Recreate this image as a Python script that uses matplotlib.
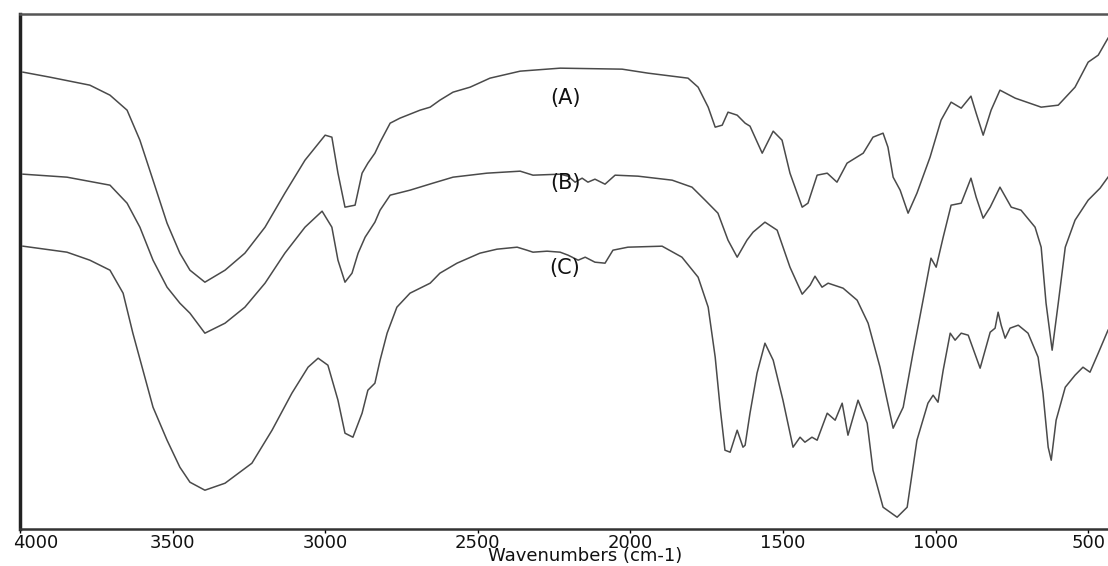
import numpy as np
import matplotlib.pyplot as plt
import matplotlib.transforms as mtransforms

plt.rcParams['font.family'] = ['DejaVu Sans']

# spectrum (A)
wn_a = [3990, 3902, 3771, 3705, 3649, 3607, 3564, 3518, 3476, 3443, 3394, 3328, 3263, 3197,
        3132, 3066, 3000, 2978, 2958, 2935, 2902, 2879, 2860, 2837, 2820, 2787, 2755, 2689,
        2656, 2624, 2581, 2525, 2460, 2361, 2230, 2027, 1942, 1811, 1778, 1745, 1722, 1699,
        1680, 1650, 1624, 1608, 1568, 1532, 1503, 1477, 1437, 1418, 1388, 1355, 1323, 1290,
        1237, 1205, 1172, 1156, 1139, 1116, 1090, 1061, 1018, 982, 949, 916, 884, 867, 844,
        818, 789, 739, 654, 598, 543, 500, 467, 435]
t_a = [457, 452, 444, 434, 419, 389, 349, 306, 276, 259, 247, 259, 276, 302,
       336, 369, 394, 392, 356, 322, 324, 356, 366, 376, 387, 406, 411, 419,
       422, 429, 437, 442, 451, 458, 461, 460, 456, 451, 442, 422, 402, 404,
       417, 414, 406, 403, 376, 398, 389, 356, 322, 326, 354, 356, 347, 366,
       376, 392, 396, 382, 352, 339, 316, 336, 372, 409, 427, 421, 433, 416, 394,
       419, 439, 431, 422, 424, 442, 467, 474, 491]

# spectrum (B)
wn_b = [3990, 3846, 3705, 3649, 3607, 3564, 3518, 3476, 3443, 3394, 3328, 3263, 3197, 3132,
        3066, 3010, 2978, 2958, 2935, 2912, 2892, 2869, 2837, 2820, 2787, 2722, 2647, 2581,
        2470, 2361, 2319, 2230, 2204, 2181, 2158, 2139, 2116, 2083, 2050, 1975, 1863, 1798,
        1755, 1713, 1680, 1650, 1618, 1598, 1559, 1519, 1477, 1437, 1411, 1395, 1372, 1352,
        1303, 1257, 1221, 1182, 1139, 1106, 1074, 1041, 1015, 998, 975, 949, 916, 884, 867,
        844, 821, 789, 752, 720, 674, 654, 638, 618, 598, 575, 543, 500, 461, 435]
t_b = [355, 352, 344, 326, 302, 269, 242, 226, 216, 196, 206, 222, 246, 276,
       302, 318, 302, 269, 247, 256, 276, 292, 307, 319, 334, 339, 346, 352,
       356, 358, 354, 355, 353, 347, 351, 347, 350, 345, 354, 353, 349, 342,
       329, 316, 289, 272, 289, 297, 307, 299, 262, 235, 244, 253, 242, 246,
       241, 229, 206, 162, 101, 122, 176, 229, 271, 262, 292, 324, 326, 351, 332,
       311, 322, 342, 322, 319, 302, 282, 226, 179, 226, 282, 309, 329, 341, 352]

# spectrum (C)
wn_c = [3990, 3846, 3771, 3705, 3662, 3630, 3597, 3564, 3518, 3476, 3443, 3394, 3328, 3240,
        3174, 3109, 3056, 3023, 2991, 2958, 2935, 2909, 2879, 2860, 2837, 2820, 2797, 2765,
        2722, 2656, 2624, 2568, 2493, 2437, 2371, 2339, 2319, 2273, 2230, 2204, 2171, 2148,
        2116, 2083, 2057, 2008, 1896, 1831, 1778, 1745, 1722, 1706, 1690, 1673, 1650, 1631,
        1624, 1608, 1585, 1559, 1532, 1500, 1467, 1444, 1428, 1405, 1388, 1355, 1329, 1306,
        1287, 1254, 1224, 1205, 1172, 1126, 1093, 1061, 1025, 1008, 992, 975, 952, 936, 916,
        893, 854, 821, 805, 795, 785, 772, 756, 729, 697, 664, 648, 631, 621, 605, 575, 543,
        517, 494, 467, 435]
t_c = [283, 277, 269, 259, 236, 196, 159, 122, 89, 62, 47, 39, 46, 66,
       99, 136, 162, 171, 164, 129, 96, 92, 116, 139, 146, 169, 196, 222,
       236, 246, 256, 266, 276, 280, 282, 279, 277, 278, 277, 274, 269, 272,
       267, 266, 279, 282, 283, 272, 252, 222, 172, 122, 79, 77, 99, 82,
       84, 116, 156, 186, 169, 129, 82, 92, 87, 92, 89, 116, 109, 126,
       94, 129, 106, 59, 22, 12, 22, 89, 126, 134, 127, 159, 196, 189, 196,
       194, 161, 197, 201, 217, 204, 191, 201, 204, 196, 172, 136, 82, 69, 109, 142, 154,
       162, 157, 176, 199]

labels = ['(A)', '(B)', '(C)']
label_pos = [(2214, 431), (2214, 346), (2214, 261)]
ticks = [4000, 3500, 3000, 2500, 2000, 1500, 1000, 500]

fig = plt.figure(figsize=(11.08, 5.66), dpi=100)
ax = fig.add_axes([0.018, 0.065, 0.982, 0.91])

line_col = '#4a4a4a'
for wn, t in [(wn_a, t_a), (wn_b, t_b), (wn_c, t_c)]:
    ax.plot(wn, t, color=line_col, lw=1.1)

for lbl, (x, y) in zip(labels, label_pos):
    ax.text(x, y, lbl, ha='center', va='center', fontsize=15, color='#111111')

ax.set_xlim(4000, 435)
ax.set_ylim(0, 515)
ax.set_yticks([])
ax.set_xticks(ticks)
ax.set_xticklabels([str(t) for t in ticks], fontsize=13, color='#111111')
ax.tick_params(axis='x', direction='out', length=3, width=1, pad=0.5)
ax.set_xlabel('Wavenumbers (cm-1)', fontsize=13, color='#111111')
ax.xaxis.set_label_coords(0.519, -0.0515)
ax.xaxis.label.set_va('center')

ax.spines['right'].set_visible(False)
ax.spines['left'].set_linewidth(2.5)
ax.spines['left'].set_color('#222222')
ax.spines['bottom'].set_linewidth(1.8)
ax.spines['bottom'].set_color('#333333')
ax.spines['top'].set_linewidth(1.8)
ax.spines['top'].set_color('#555555')

# first tick label sits inside the figure
first = ax.get_xticklabels()[0]
first.set_transform(first.get_transform() + mtransforms.ScaledTranslation(0.16, 0, fig.dpi_scale_trans))

fig.savefig('out.png', dpi=100)
